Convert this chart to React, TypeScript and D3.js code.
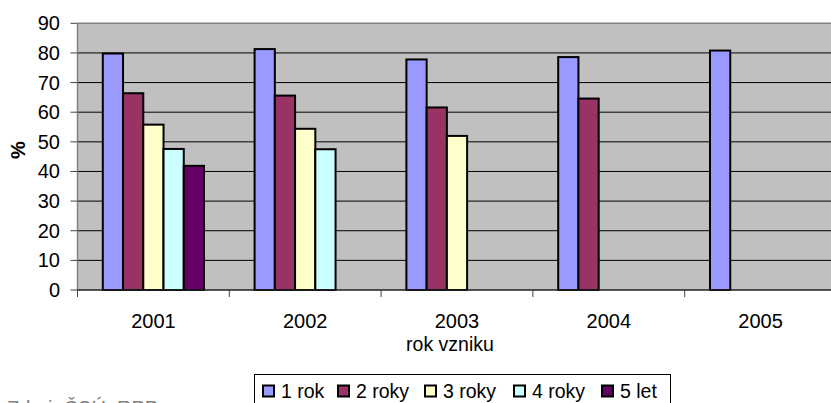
import React from "react";
import * as d3 from "d3";

const years = ["2001", "2002", "2003", "2004", "2005"];
const seriesNames = ["1 rok", "2 roky", "3 roky", "4 roky", "5 let"];
const rok1 = [79.8, 81.3, 77.8, 78.6, 80.8];
const roky2 = [66.4, 65.6, 61.6, 64.6, null];
const roky3 = [55.8, 54.4, 52.0, null, null];
const roky4 = [47.6, 47.5, null, null, null];
const let5 = [41.9, null, null, null, null];
const yTicks = [0, 10, 20, 30, 40, 50, 60, 70, 80, 90];
const colors = ["#9999FF", "#993366", "#FFFFCC", "#CCFFFF", "#660066"];

const W = 831;
const H = 403;
const FONT = "'Liberation Sans', Arial, sans-serif";

export default function App() {
  const allSeries = [rok1, roky2, roky3, roky4, let5];
  const left = 77.5;
  const catW = 151.8;
  const right = left + catW * years.length;
  const top = 23.3;
  const bottom = 290;

  const x = d3.scaleBand<string>().domain(years).range([left, right]).paddingInner(0).paddingOuter(0);
  const bw = catW / 7.5;
  const inner = d3
    .scaleBand<string>()
    .domain(seriesNames)
    .range([bw * 1.25, bw * 6.25])
    .padding(0);
  const y = d3.scaleLinear().domain([0, 90]).range([bottom, top]);

  const legendX = [263, 338, 425, 514, 602];

  return (
    <svg
      width={W}
      height={H}
      style={{ position: "absolute", left: 0, top: 0, background: "#fff" }}
      fontFamily={FONT}
    >
      {/* plot background */}
      <rect x={left} y={top} width={right - left} height={bottom - top} fill="#C0C0C0" />
      {/* gridlines */}
      {yTicks.slice(1, -1).map((t) => (
        <line key={t} x1={left} x2={right} y1={y(t)} y2={y(t)} stroke="#000" strokeWidth={1} />
      ))}
      <line x1={left} x2={right} y1={top} y2={top} stroke="#808080" strokeWidth={1.5} />
      {/* bars */}
      {years.map((yr, i) => (
        <g key={yr} transform={`translate(${x(yr)},0)`}>
          {allSeries.map((s, j) => {
            const v = s[i];
            if (v == null) return null;
            return (
              <rect
                key={j}
                x={inner(seriesNames[j])}
                y={y(v)}
                width={inner.bandwidth()}
                height={bottom - y(v)}
                fill={colors[j]}
                stroke="#000"
                strokeWidth={2}
              />
            );
          })}
        </g>
      ))}
      {/* y axis */}
      <line x1={left} x2={left} y1={top} y2={bottom} stroke="#808080" strokeWidth={1.5} />
      {yTicks.map((t) => (
        <g key={t}>
          <line x1={left - 7} x2={left} y1={y(t)} y2={y(t)} stroke="#404040" strokeWidth={1} />
          <text x={60} y={y(t)} dy="0.35em" textAnchor="end" fontSize={20} fill="#000">
            {t}
          </text>
        </g>
      ))}
      {/* x axis */}
      <line x1={left} x2={right} y1={bottom} y2={bottom} stroke="#202020" strokeWidth={1.5} />
      {years.map((yr) => (
        <line
          key={yr}
          x1={x(yr)!}
          x2={x(yr)!}
          y1={bottom}
          y2={bottom + 7}
          stroke="#404040"
          strokeWidth={1}
        />
      ))}
      {years.map((yr) => (
        <text
          key={yr}
          x={x(yr)! + x.bandwidth() / 2}
          y={328}
          textAnchor="middle"
          fontSize={20}
          fill="#000"
        >
          {yr}
        </text>
      ))}
      <text x={450} y={351} textAnchor="middle" fontSize={19.5} fill="#000">
        rok vzniku
      </text>
      <text
        transform={`translate(18,150) rotate(-90)`}
        textAnchor="middle"
        dy="0.35em"
        fontSize={20}
        fontWeight="bold"
        fill="#000"
      >
        %
      </text>
      {/* legend */}
      <rect x={254.5} y={374.5} width={416} height={40} fill="#fff" stroke="#000" strokeWidth={1} />
      {seriesNames.map((n, j) => (
        <g key={n}>
          <rect
            x={legendX[j]}
            y={385.5}
            width={11}
            height={11}
            fill={colors[j]}
            stroke="#000"
            strokeWidth={2}
          />
          <text x={legendX[j] + 18} y={398} fontSize={19.5} fill="#000">
            {n}
          </text>
        </g>
      ))}
      {/* source note (cut off) */}
      <text x={7} y={415} fontSize={20} fill="#808080">
        Zdroj: ČSÚ, RPP
      </text>
    </svg>
  );
}
